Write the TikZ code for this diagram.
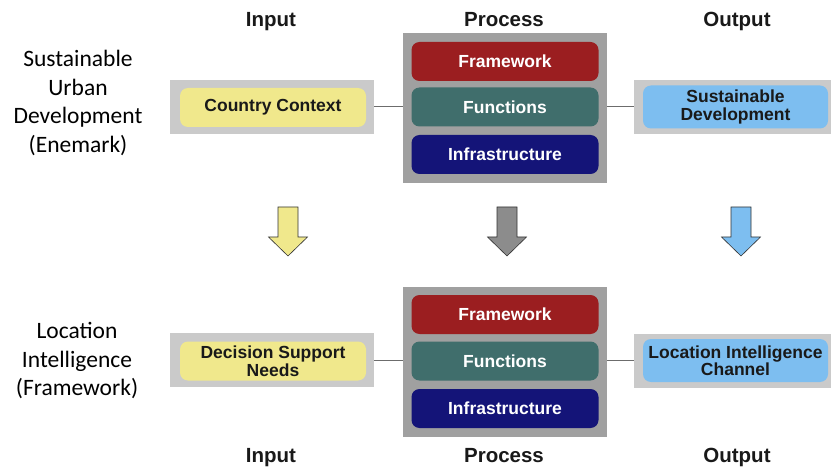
\documentclass[tikz,border=0pt]{standalone}
\usepackage{fontspec}
\setmainfont{Liberation Sans}
\newfontfamily\calib{Carlito}
\definecolor{lightframe}{RGB}{202,202,202}
\definecolor{procframe}{RGB}{160,160,160}
\definecolor{yelbox}{RGB}{240,232,140}
\definecolor{bluebox}{RGB}{125,190,240}
\definecolor{fwred}{RGB}{155,30,32}
\definecolor{fnteal}{RGB}{64,110,108}
\definecolor{infblue}{RGB}{20,20,120}
\definecolor{arrgray}{RGB}{140,140,140}
\definecolor{txtdark}{RGB}{25,25,25}
\begin{document}
\begin{tikzpicture}[x=1pt,y=-1pt,
  hdr/.style={font=\fontsize{20.5}{22}\selectfont\bfseries, text=txtdark, anchor=base},
  side/.style={font=\calib\fontsize{23.5}{28.5}\selectfont, align=center, text=black},
  lframe/.style={fill=lightframe, draw=none, minimum width=#1, minimum height=54pt, inner sep=0pt},
  pframe/.style={fill=procframe, draw=none, minimum width=204pt, minimum height=150pt, inner sep=0pt},
  inbox/.style={rounded corners=8pt, minimum height=39pt, inner sep=0pt, align=center,
     font=\fontsize{17.5}{17.5}\selectfont\bfseries},
  ybox/.style={inbox, fill=yelbox, minimum width=186pt, text=txtdark},
  bbox/.style={inbox, fill=bluebox, minimum width=185pt, minimum height=43pt, text=txtdark},
  pbox/.style={inbox, fill=#1, minimum width=187pt, text=white},
  link/.style={draw=gray!85!black, line width=1pt},
  blockarrow/.pic={\filldraw[fill=#1, draw=gray!40!black, line width=0.6pt]
     (-10,0) -- (10,0) -- (10,30) -- (19.5,30) -- (0,49) -- (-19.5,30) -- (-10,30) -- cycle;}
]
\useasboundingbox (0,0) rectangle (831,468);

% headers
\node[hdr] (hin1) at (271,27) {Input};
\node[hdr] (hpr1) at (504,27) {Process};
\node[hdr] (hout1) at (737,27) {Output};
\node[hdr] (hin2) at (271,462) {Input};
\node[hdr] (hpr2) at (504,462) {Process};
\node[hdr] (hout2) at (737,462) {Output};

% side labels
\node[side] (s1) at (78,103) {Sustainable\\Urban\\Development\\(Enemark)};
\node[side] (s2) at (77,361) {Location\\Intelligence\\(Framework)};

% top row
\node[lframe=204pt] (inF1) at (272,107) {};
\node[ybox] (in1) at (273,107.5) {Country Context};
\node[pframe] (prF1) at (505,108) {};
\node[pbox=fwred] (fw1) at (505,61.5) {Framework};
\node[pbox=fnteal] (fn1) at (505,107) {Functions};
\node[pbox=infblue] (inf1) at (505,154.5) {Infrastructure};
\node[lframe=197pt] (outF1) at (732.5,107) {};
\node[bbox] (out1) at (735.5,107) {Sustainable\\Development};
\draw[link] (inF1.east) -- (prF1.west |- inF1.east);
\draw[link] (prF1.east |- outF1.west) -- (outF1.west);

% arrows
\coordinate (a1) at (288,207);
\coordinate (a2) at (507,207);
\coordinate (a3) at (741,207);
\pic at (a1) {blockarrow=yelbox};
\pic at (a2) {blockarrow=arrgray};
\pic at (a3) {blockarrow=bluebox};

% bottom row
\node[lframe=204pt] (inF2) at (272,360) {};
\node[ybox] (in2) at (273,361) {Decision Support\\Needs};
\node[pframe] (prF2) at (505,361.5) {};
\node[pbox=fwred] (fw2) at (505,314.5) {Framework};
\node[pbox=fnteal] (fn2) at (505,361) {Functions};
\node[pbox=infblue] (inf2) at (505,408.5) {Infrastructure};
\node[lframe=197pt] (outF2) at (732.5,360.5) {};
\node[bbox] (out2) at (735.5,360.5) {Location Intelligence\\Channel};
\draw[link] (inF2.east) -- (prF2.west |- inF2.east);
\draw[link] (prF2.east |- outF2.west) -- (outF2.west);
\end{tikzpicture}
\end{document}
